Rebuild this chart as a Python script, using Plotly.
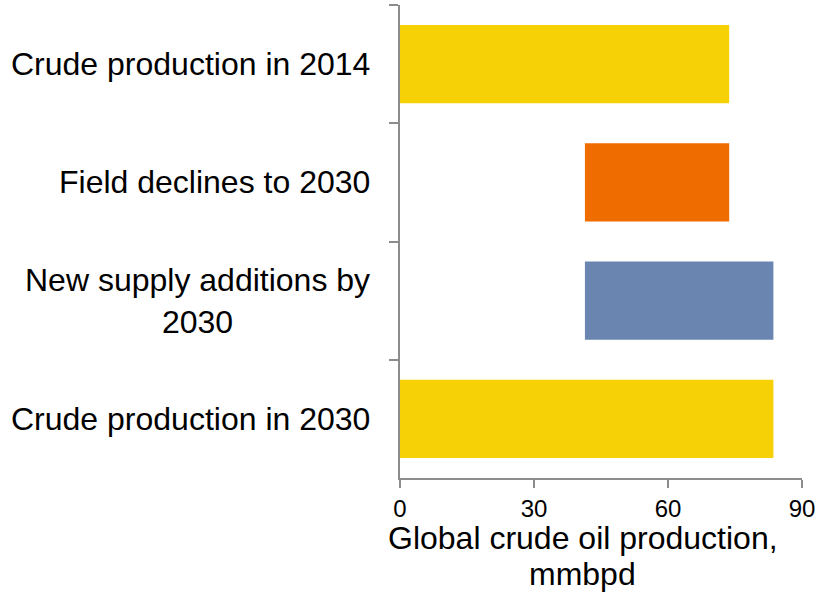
import plotly.graph_objects as go

# Waterfall of global crude oil production, 2014 -> 2030 (mmbpd)
categories = [
    "Crude production in 2014",
    "Field declines to 2030",
    "New supply additions by<br>2030",
    "Crude production in 2030",
]
crude_2014 = 73.7
field_declines = -32.3
new_supply_additions = 42.2
crude_2030 = 83.6

x_ticks = [0, 30, 60, 90]
x_title_lines = ["Global crude oil production,", "mmbpd"]
bar_colors = ["#F5D105", "#EF6C00", "#6A85B0", "#F5D105"]

# floating segments: each step starts where the running total left off
after_declines = crude_2014 + field_declines
starts = [0, after_declines, after_declines, 0]
lengths = [crude_2014, -field_declines, new_supply_additions, crude_2030]

FONT = "Liberation Sans, Arial, sans-serif"
AXIS_GREY = "#8C8C8C"

fig = go.Figure(
    go.Bar(
        y=categories,
        x=lengths,
        base=starts,
        orientation="h",
        width=0.66,
        marker=dict(color=bar_colors, line=dict(width=0)),
        hoverinfo="skip",
    )
)

# category labels, centred line-by-line to the left of the axis
annotations = [
    dict(
        x=0, xref="paper", xshift=-28, xanchor="right",
        y=cat, yref="y", yanchor="middle",
        text=cat, align="center", showarrow=False,
        font=dict(family=FONT, size=32, color="#000000"),
    )
    for cat in categories
]
# x-axis title, set line by line with a tight leading
for line, shift in zip(x_title_lines, [-40, -76]):
    annotations.append(
        dict(
            x=0.455, xref="paper", xanchor="center",
            y=0, yref="paper", yanchor="top", yshift=shift,
            text=line, showarrow=False,
            font=dict(family=FONT, size=32, color="#000000"),
        )
    )

fig.update_layout(
    width=819,
    height=594,
    margin=dict(l=400, r=17, t=5, b=116),
    paper_bgcolor="white",
    plot_bgcolor="white",
    showlegend=False,
    annotations=annotations,
    xaxis=dict(
        range=[0, 90],
        tickvals=x_ticks,
        ticks="outside",
        ticklen=8,
        tickwidth=2,
        tickcolor=AXIS_GREY,
        showline=True,
        linecolor=AXIS_GREY,
        linewidth=2,
        showgrid=False,
        zeroline=False,
        tickfont=dict(family=FONT, size=24, color="#000000"),
    ),
    yaxis=dict(
        type="category",
        categoryorder="array",
        categoryarray=categories,
        autorange="reversed",
        tickson="boundaries",
        ticks="outside",
        ticklen=9,
        tickwidth=2,
        tickcolor=AXIS_GREY,
        showline=True,
        linecolor=AXIS_GREY,
        linewidth=2,
        showgrid=False,
        zeroline=False,
        showticklabels=False,
    ),
)

fig.write_html("out.html")
